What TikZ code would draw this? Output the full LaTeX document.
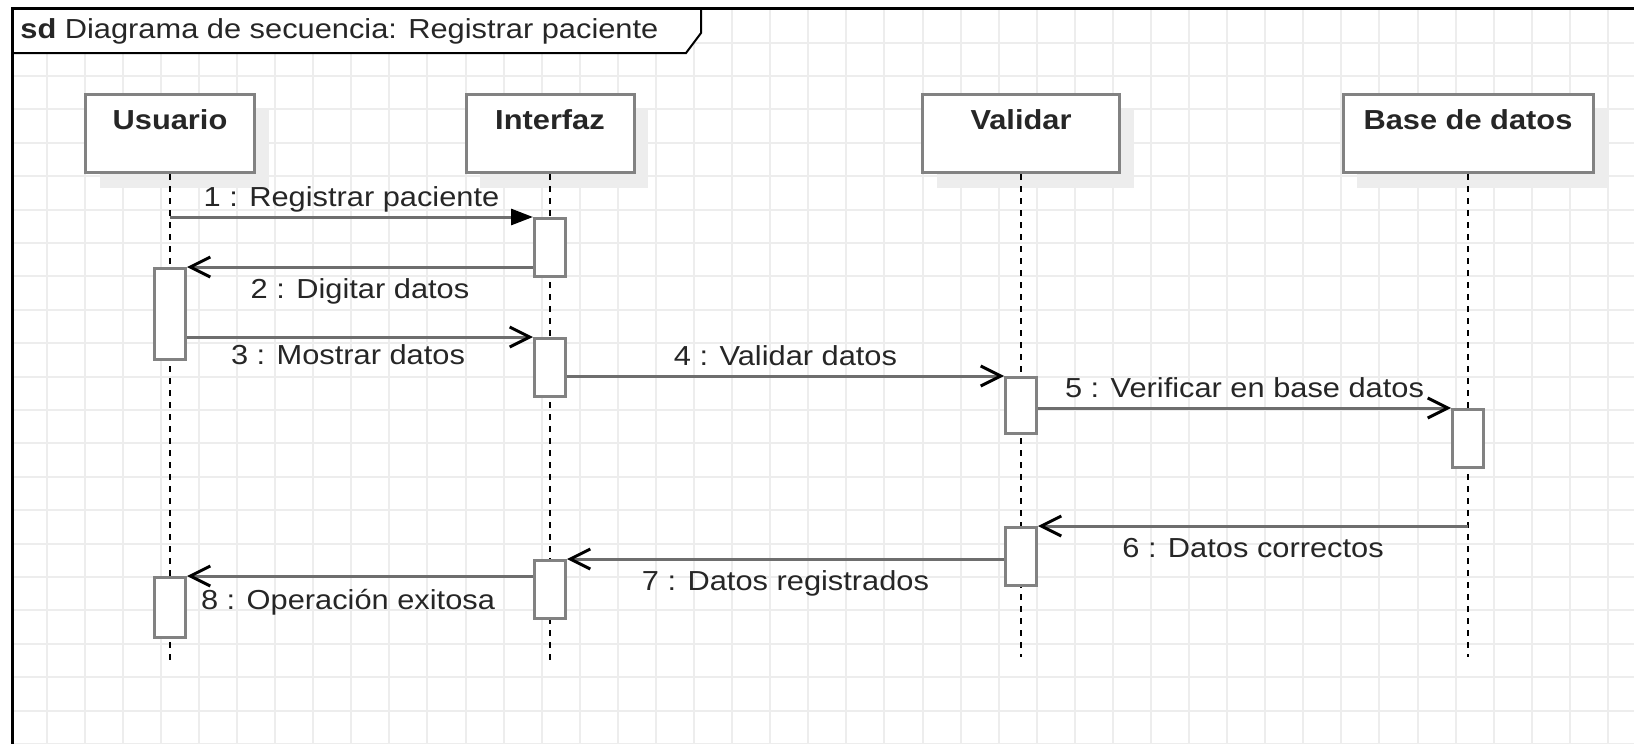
\documentclass[tikz,border=0pt]{standalone}
\usepackage{fontspec}
\setmainfont{Liberation Sans}[FakeStretch=1.12]
\usetikzlibrary{arrows.meta,shadows}

\definecolor{lineGray}{HTML}{6E6E6E}
\definecolor{boxGray}{HTML}{828282}
\definecolor{gridGray}{HTML}{EDEDED}
\definecolor{textDark}{HTML}{262626}

\begin{document}
\begin{tikzpicture}[x=0.5pt,y=-0.5pt,
  txt/.style={font=\fontsize{13.75pt}{16pt}\selectfont, text=textDark},
  head/.style={txt, font=\fontsize{13.75pt}{16pt}\selectfont\bfseries,
    draw=boxGray, line width=1.5pt, fill=white, anchor=north,
    inner xsep=0pt, inner ysep=0pt, text height=17.3pt, text depth=21.7pt,
    drop shadow={shadow xshift=7pt, shadow yshift=-7.5pt, opacity=1, fill=black!7}},
  act/.style={draw=boxGray, line width=1.5pt, fill=white, anchor=north,
    minimum width=15.5pt, minimum height=29pt, inner sep=0pt},
  life/.style={black, line width=1pt, dash pattern=on 3pt off 3pt},
  msg/.style={lineGray, line width=1.5pt, -{Straight Barb[length=10pt, width=10pt, color=black]}},
  call/.style={lineGray, line width=1.5pt, -{Triangle[length=11pt, width=8pt, color=black]}},
  lblup/.style={txt, inner sep=0pt, anchor=base, midway, yshift=5.5pt},
  lbldn/.style={txt, inner sep=0pt, anchor=base, midway, yshift=-15.5pt},
  gridln/.style={gridGray, line width=1pt}]

  \useasboundingbox (0,0) rectangle (1634,744);
  \clip (0,0) rectangle (1634,744);

  % Background grid
  \foreach \k in {1,...,42}
    \draw[gridln] ({8.6+38.08*\k},8) -- ({8.6+38.08*\k},744);
  \foreach \k in {1,...,22}
    \draw[gridln] (12,{9.2+33.4*\k}) -- (1634,{9.2+33.4*\k});

  % Frame and its tab
  \draw[black, line width=1pt, fill=white]
    (12,8) -- (701,8) -- (701,33) -- (686,53) -- (12,53) -- cycle;
  \draw[black, line width=1.5pt] (12,760) -- (12,8) -- (1650,8);
  \node[txt, anchor=base west, inner sep=0pt] (title) at (20,39)
    {\textbf{sd} Diagrama de secuencia: Registrar paciente};

  % ---- Lifeline heads ----
  \node[head, minimum width=84.5pt] (usr) at (170,93) {Usuario};
  \node[head, minimum width=84pt] (inf) at (550,93) {Interfaz};
  \node[head, minimum width=98.5pt] (val) at (1021,93) {Validar};
  \node[head, minimum width=125pt] (bdd) at (1468,93) {Base de datos};

  % Lifelines
  \coordinate (usrEnd) at (170,665);
  \coordinate (infEnd) at (550,664);
  \coordinate (valEnd) at (1021,657);
  \coordinate (bddEnd) at (1468,657);
  \draw[life] (usr.south) -- (usrEnd);
  \draw[life] (inf.south) -- (infEnd);
  \draw[life] (val.south) -- (valEnd);
  \draw[life] (bdd.south) -- (bddEnd);

  % ---- Activations ----
  \node[act] (infA) at (550,217) {};
  \node[act, minimum height=45.5pt] (usrA) at (170,267) {};
  \node[act] (infB) at (550,337) {};
  \node[act, minimum height=28pt] (valA) at (1021,376) {};
  \node[act] (bddA) at (1468,408) {};
  \node[act] (valB) at (1021,526) {};
  \node[act] (infC) at (550,559) {};
  \node[act, minimum height=30pt] (usrB) at (170,576) {};

  % ---- Messages ----
  \draw[call] (usr.south |- infA.north) -- (infA.north west)
    node[lblup] {1 : Registrar paciente};
  \draw[msg] (infA.west |- usrA.north) -- (usrA.north east)
    node[lbldn] {2 : Digitar datos};
  \draw[msg] (usrA.east |- infB.north) -- (infB.north west)
    node[lbldn, xshift=-6pt, yshift=2pt] {3 : Mostrar datos};
  \draw[msg] (infB.east |- valA.north) -- (valA.north west)
    node[lblup] {4 : Validar datos};
  \draw[msg] (valA.east |- bddA.north) -- (bddA.north west)
    node[lblup] {5 : Verificar en base datos};
  \draw[msg] (bdd.south |- valB.north) -- (valB.north east)
    node[lbldn] {6 : Datos correctos};
  \draw[msg] (valB.west |- infC.north) -- (infC.north east)
    node[lbldn] {7 : Datos registrados};
  \draw[msg] (infC.west |- usrB.north) -- (usrB.north east)
    node[lbldn, xshift=-6pt, yshift=-1pt] {8 : Operación exitosa};
\end{tikzpicture}
\end{document}
